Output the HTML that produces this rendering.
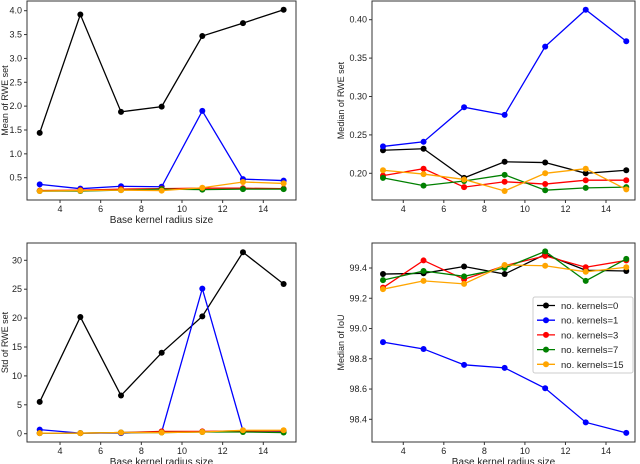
<!DOCTYPE html>
<html><head><meta charset="utf-8"><style>
body{margin:0;background:#fff;width:640px;height:464px;overflow:hidden}
svg{display:block;font-family:"Liberation Sans","DejaVu Sans",sans-serif}
</style></head><body>
<svg id="c" width="640" height="464"></svg>
<script>
const xCats=[3,5,7,9,11,13,15];
const xTicks=[4,6,8,10,12,14];
const seriesNames=["no. kernels=0","no. kernels=1","no. kernels=3","no. kernels=7","no. kernels=15"];
const colors=["#000000","#0000ff","#ff0000","#008000","#ffa500"];
// Mean of RWE
const meanBlack=[1.44,3.92,1.88,1.99,3.47,3.74,4.02];
const meanBlue=[0.36,0.27,0.32,0.31,1.90,0.47,0.44];
const meanRed=[0.23,0.24,0.26,0.27,0.28,0.28,0.27];
const meanGreen=[0.22,0.22,0.24,0.26,0.25,0.26,0.26];
const meanOrange=[0.22,0.23,0.24,0.23,0.29,0.41,0.38];
const meanTicks=[0.5,1.0,1.5,2.0,2.5,3.0,3.5,4.0];
// Median of RWE
const medBlack=[0.230,0.232,0.194,0.215,0.214,0.200,0.204];
const medBlue=[0.235,0.241,0.286,0.276,0.365,0.413,0.372];
const medRed=[0.197,0.206,0.182,0.189,0.186,0.191,0.191];
const medGreen=[0.194,0.184,0.190,0.198,0.178,0.181,0.182];
const medOrange=[0.204,0.199,0.192,0.177,0.200,0.206,0.179];
const medTicks=[0.20,0.25,0.30,0.35,0.40];
// Std of RWE
const stdBlack=[5.5,20.2,6.6,14.0,20.3,31.4,25.9];
const stdBlue=[0.7,0.1,0.1,0.3,25.1,0.5,0.4];
const stdRed=[0.1,0.1,0.2,0.4,0.4,0.5,0.5];
const stdGreen=[0.1,0.1,0.2,0.2,0.3,0.3,0.2];
const stdOrange=[0.1,0.1,0.2,0.2,0.3,0.6,0.6];
const stdTicks=[0,5,10,15,20,25,30];
// Median IoU
const iouBlack=[99.36,99.365,99.41,99.36,99.49,99.385,99.38];
const iouBlue=[98.91,98.865,98.76,98.74,98.605,98.38,98.31];
const iouRed=[99.27,99.45,99.325,99.415,99.48,99.405,99.45];
const iouGreen=[99.32,99.38,99.345,99.40,99.51,99.315,99.46];
const iouOrange=[99.26,99.315,99.295,99.42,99.415,99.375,99.405];
const iouTicks=[98.4,98.6,98.8,99.0,99.2,99.4];

const NS="http://www.w3.org/2000/svg";
const svg=document.getElementById('c');
function mk(tag,attrs,parent){const e=document.createElementNS(NS,tag);for(const k in attrs)e.setAttribute(k,attrs[k]);(parent||svg).appendChild(e);return e;}

function panel(p){
  const g=mk('g',{});
  
  
  const xs=v=>p.x0+(v-3)*(p.x14-p.x0)/11;
  const ys=v=>p.ya+(v-p.va)*(p.yb-p.ya)/(p.vb-p.va);
  const fr=mk('rect',{x:p.L,y:p.T,width:p.R-p.L,height:p.B-p.T,fill:'none',stroke:'#333','stroke-width':1},g);
  
  
  xTicks.forEach(t=>{const x=xs(t);mk('line',{x1:x,x2:x,y1:p.B,y2:p.B+3,stroke:'#333'},g);
    const tx=mk('text',{x:x,y:p.B+12,'font-size':9,'text-anchor':'middle',fill:'#222'},g);tx.textContent=t;
    
    });
  p.ticks.forEach(t=>{const y=ys(t);mk('line',{x1:p.L-3,x2:p.L,y1:y,y2:y,stroke:'#333'},g);
    const tx=mk('text',{x:p.L-5,y:y+3,'font-size':9,'text-anchor':'end',fill:'#222'},g);tx.textContent=t.toFixed(p.dec);
    
    });
  if(p.xlabel){const t=mk('text',{x:(p.L+p.R)/2,y:p.B+23,'font-size':10,'text-anchor':'middle',fill:'#222'},g);t.textContent=p.xlabel;
    
    }
  const yl=mk('text',{x:0,y:0,'font-size':9,'text-anchor':'middle',fill:'#222',transform:`translate(${p.ylx},${(p.T+p.B)/2}) rotate(-90)`},g);yl.textContent=p.ylabel;
  
  
  p.series.forEach((s,i)=>{
    const pts=xCats.map((c,j)=>xs(c)+','+ys(s[j])).join(' ');
    const pl=mk('polyline',{points:pts,fill:'none',stroke:colors[i],'stroke-width':1.3},g);
    
    
    xCats.forEach((c,j)=>{const m=mk('circle',{cx:xs(c),cy:ys(s[j]),r:3,fill:colors[i]},g);
      
      });
  });
}
panel({name:'mean-rwe-panel',L:27,R:296,T:1,B:200,x0:39.7,x14:263.3,va:0.5,vb:4.0,ya:177.7,yb:10.7,ticks:meanTicks,dec:1,
  xlabel:'Base kernel radius size',ylabel:'Mean of RWE set',ylx:8,series:[meanBlack,meanBlue,meanRed,meanGreen,meanOrange]});
panel({name:'median-rwe-panel',L:372,R:635,T:1,B:200,x0:383,x14:606,va:0.20,vb:0.40,ya:173.3,yb:19.7,ticks:medTicks,dec:2,
  xlabel:null,ylabel:'Median of RWE set',ylx:344,series:[medBlack,medBlue,medRed,medGreen,medOrange]});
panel({name:'std-rwe-panel',L:27,R:296,T:243,B:442,x0:39.7,x14:263.3,va:0,vb:30,ya:433.7,yb:260.3,ticks:stdTicks,dec:0,
  xlabel:'Base kernel radius size',ylabel:'Std of RWE set',ylx:8,series:[stdBlack,stdBlue,stdRed,stdGreen,stdOrange]});
panel({name:'median-iou-panel',L:372,R:635,T:243,B:442,x0:383,x14:606,va:98.4,vb:99.4,ya:419.3,yb:268,ticks:iouTicks,dec:1,
  xlabel:'Base kernel radius size',ylabel:'Median of IoU',ylx:344,series:[iouBlack,iouBlue,iouRed,iouGreen,iouOrange]});

// legend
const lg=mk('g',{});


mk('rect',{x:533,y:297,width:100,height:76,rx:2,fill:'#fff',stroke:'#ccc'},lg);
seriesNames.forEach((n,i)=>{
  const y=305.5+i*14.7;
  const e=mk('g',{},lg);
  
  
  mk('line',{x1:537,x2:555,y1:y,y2:y,stroke:colors[i],'stroke-width':1.3},e);
  mk('circle',{cx:546,cy:y,r:3,fill:colors[i]},e);
  const t=mk('text',{x:561,y:y+3.5,'font-size':9.5,fill:'#222'},e);t.textContent=n;
});
</script>
</body></html>
